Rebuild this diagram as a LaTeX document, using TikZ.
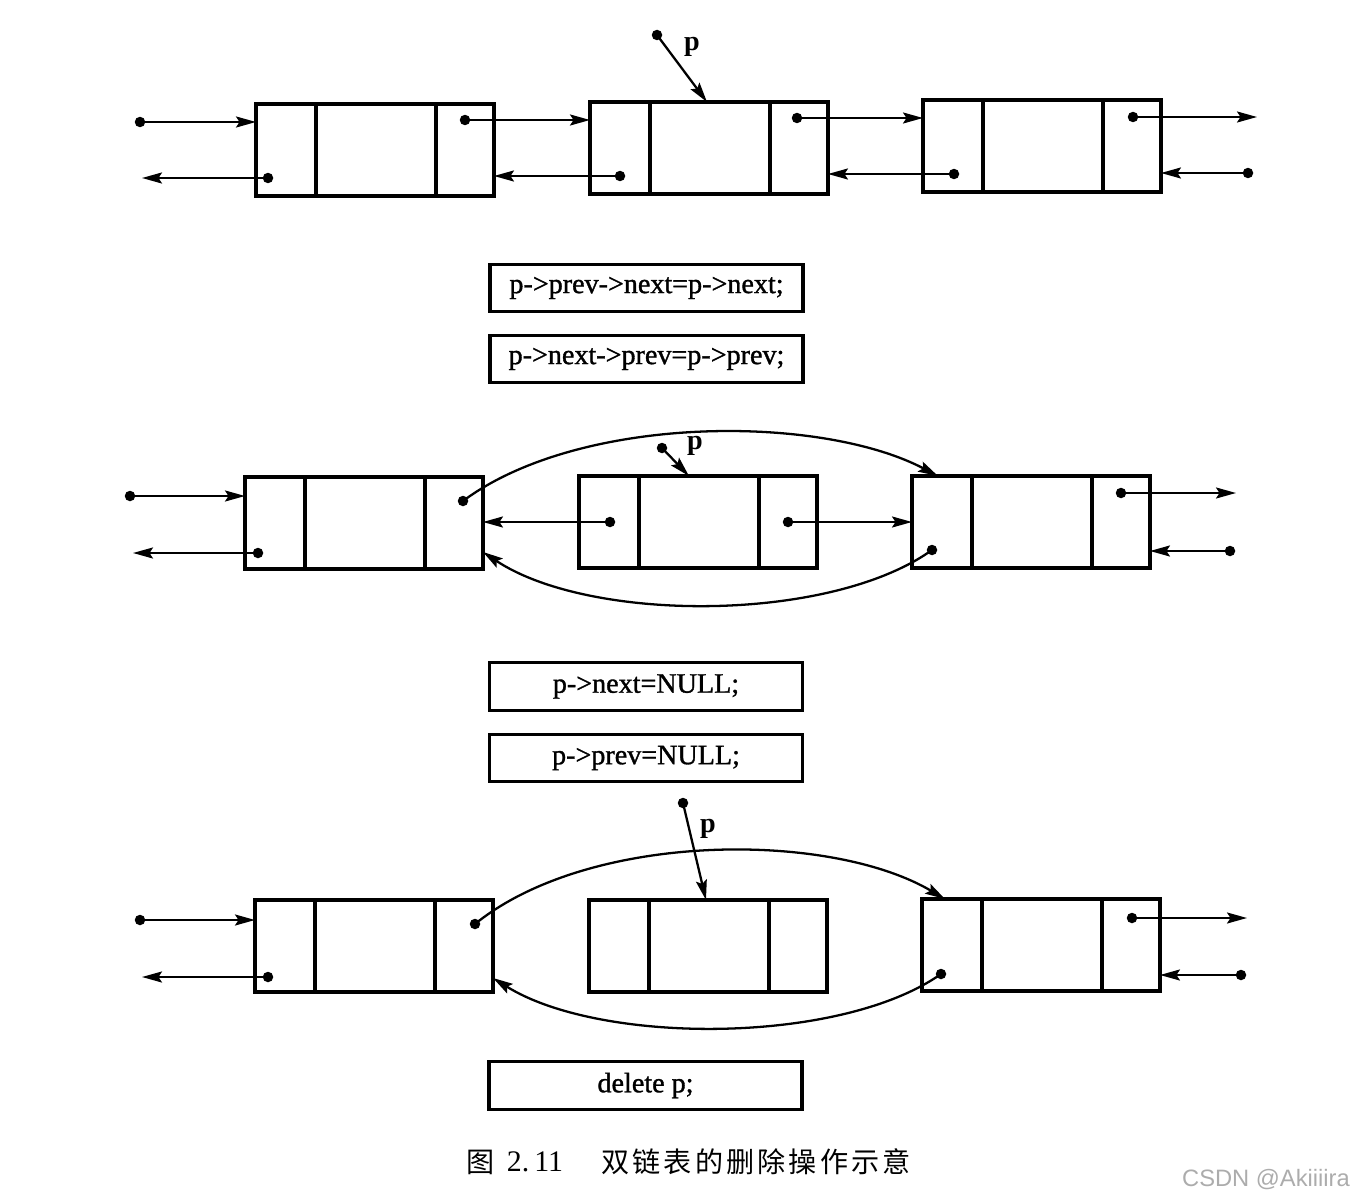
\documentclass[tikz,border=0pt]{standalone}
\usepackage{fontspec}
\setmainfont{Liberation Serif}
\newfontfamily\codefont[FakeBold=1.2]{Liberation Serif}
\newfontfamily\cjk{Noto Sans CJK SC}
\newfontfamily\wmfont{Liberation Sans}
\usetikzlibrary{arrows.meta,calc}
\newcommand\capsp{\hspace{1.8pt}}
\newcommand\dlrecord[3]{%
  \node[lcell] (#1l) at (#2,#3) {};
  \node[mcell] (#1m) at (#1l.north east) {};
  \node[rcell] (#1r) at (#1m.north east) {};
}
\tikzset{
  cellbox/.style={draw, line width=1.9pt, minimum height=1.84cm, inner sep=0pt, outer sep=0pt, anchor=north west},
  lcell/.style={cellbox, minimum width=1.2cm},
  mcell/.style={cellbox, minimum width=2.4cm},
  rcell/.style={cellbox, minimum width=1.16cm},
  ptr/.style={line width=1.3pt, -{Stealth[length=0.4cm,width=0.22cm,inset=0.07cm]}},
  dotc/.style={circle, fill, inner sep=0pt, minimum size=0.21cm},
  code/.style={draw, line width=1.9pt, minimum width=6.26cm, minimum height=0.95cm, inner sep=0pt, font=\codefont\fontsize{16}{18}\selectfont},
  plabel/.style={font=\fontsize{16}{18}\selectfont\bfseries},
}
\begin{document}
\begin{tikzpicture}[x=0.02cm,y=-0.02cm]
\useasboundingbox (0,0) rectangle (1360,1203);

% ---------- Row 1 ----------
\dlrecord{A1}{256}{104}
\dlrecord{B1}{590}{102}
\dlrecord{C1}{923}{100}

\node[dotc] (s1) at (140,122) {};
\draw[ptr] (s1.center) -- (A1l.west |- s1);
\node[dotc] (a1p) at (268,178) {};
\coordinate (e1) at (142,178);
\draw[ptr] (a1p.center) -- (e1);
\node[dotc] (a1n) at (465,120) {};
\draw[ptr] (a1n.center) -- (B1l.west |- a1n);
\node[dotc] (b1p) at (620,176) {};
\draw[ptr] (b1p.center) -- (A1r.east |- b1p);
\node[dotc] (b1n) at (797,118) {};
\draw[ptr] (b1n.center) -- (C1l.west |- b1n);
\node[dotc] (c1p) at (954,174) {};
\draw[ptr] (c1p.center) -- (B1r.east |- c1p);
\node[dotc] (c1n) at (1133,117) {};
\coordinate (e2) at (1257,117);
\draw[ptr] (c1n.center) -- (e2);
\node[dotc] (s2) at (1248,173) {};
\draw[ptr] (s2.center) -- (C1r.east |- s2);

\node[dotc] (p1) at (657,35) {};
\draw[ptr] (p1.center) -- ($(B1m.north west)+(57,0)$);
\node[plabel] (p1l) at (692,47) {p};

% ---------- code boxes 1 ----------
\node[code] (k1) at (646.5,288) {p->prev->next=p->next;};
\node[code] (k2) at (646.5,359) {p->next->prev=p->prev;};

% ---------- Row 2 ----------
\dlrecord{A2}{245}{477}
\dlrecord{B2}{579}{476}
\dlrecord{C2}{912}{476}

\node[dotc] (s3) at (130,496) {};
\draw[ptr] (s3.center) -- (A2l.west |- s3);
\node[dotc] (a2p) at (258,553) {};
\coordinate (e3) at (133,553);
\draw[ptr] (a2p.center) -- (e3);
\node[dotc] (a2n) at (463,501) {};
\draw[ptr] (a2n.center) .. controls (580,414) and (820,414) .. ($(C2l.north west)+(26,0)$);
\node[dotc] (b2p) at (610,522) {};
\draw[ptr] (b2p.center) -- (A2r.east |- b2p);
\node[dotc] (b2n) at (788,522) {};
\draw[ptr] (b2n.center) -- (C2l.west |- b2n);
\node[dotc] (c2p) at (932,550) {};
\draw[ptr] (c2p.center) .. controls (830,623) and (590,623) .. ($(A2r.south east)+(0,-17)$);
\node[dotc] (c2n) at (1121,493) {};
\coordinate (e4) at (1236,493);
\draw[ptr] (c2n.center) -- (e4);
\node[dotc] (s4) at (1230,551) {};
\draw[ptr] (s4.center) -- (C2r.east |- s4);

\node[dotc] (p2) at (662,448) {};
\draw[ptr] (p2.center) -- ($(B2m.north west)+(50,0)$);
\node[plabel] (p2l) at (695,446) {p};

% ---------- code boxes 2 ----------
\node[code] (k3) at (646,686.5) {p->next=NULL;};
\node[code] (k4) at (646,758) {p->prev=NULL;};

% ---------- Row 3 ----------
\dlrecord{A3}{255}{900}
\dlrecord{B3}{589}{900}
\dlrecord{C3}{922}{899}

\node[dotc] (s5) at (140,920) {};
\draw[ptr] (s5.center) -- (A3l.west |- s5);
\node[dotc] (a3p) at (268,977) {};
\coordinate (e5) at (142,977);
\draw[ptr] (a3p.center) -- (e5);
\node[dotc] (a3n) at (475,924) {};
\draw[ptr] (a3n.center) .. controls (590,831) and (830,831) .. ($(C3l.north west)+(23,0)$);
\node[dotc] (c3p) at (941,974) {};
\draw[ptr] (c3p.center) .. controls (840,1045) and (600,1045) .. ($(A3r.south east)+(0,-14)$);
\node[dotc] (c3n) at (1132,918) {};
\coordinate (e6) at (1247,918);
\draw[ptr] (c3n.center) -- (e6);
\node[dotc] (s6) at (1241,975) {};
\draw[ptr] (s6.center) -- (C3r.east |- s6);

\node[dotc] (p3) at (683,803) {};
\draw[ptr] (p3.center) -- ($(B3m.north west)+(57,0)$);
\node[plabel] (p3l) at (708,829) {p};

% ---------- code box 3 ----------
\node[code] (k5) at (645.5,1085.5) {delete p;};

% ---------- caption ----------
\node[font=\cjk\fontsize{16}{18}\selectfont, inner sep=0pt] (capa) at (481,1162) {图};
\node[font=\fontsize{17}{18}\selectfont, inner sep=0pt] (capb) at (535,1162) {2.\,11};
\node[font=\cjk\fontsize{16}{18}\selectfont, inner sep=0pt] (capc) at (756,1162) {双\capsp 链\capsp 表\capsp 的\capsp 删\capsp 除\capsp 操\capsp 作\capsp 示\capsp 意};

\node[font=\wmfont\fontsize{13.5}{15}\selectfont, text=gray!65, inner sep=0pt] (wm) at (1266,1180) {CSDN @Akiiiira};
\end{tikzpicture}
\end{document}
